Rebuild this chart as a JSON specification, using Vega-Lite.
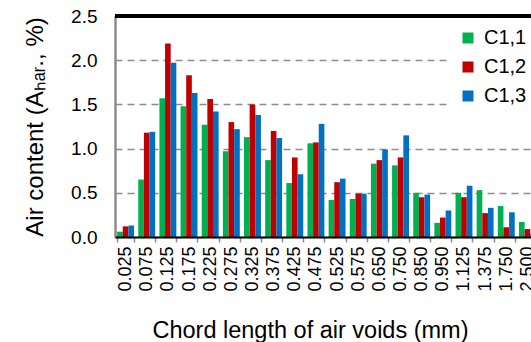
{
  "$schema": "https://vega.github.io/schema/vega-lite/v6.json",
  "autosize": "none",
  "width": 416,
  "height": 221,
  "padding": {"left": 115, "top": 16, "right": 0, "bottom": 105},
  "background": "white",
  "config": {
    "view": {"stroke": null},
    "font": "Liberation Sans"
  },
  "data": {
    "values": [
      {"chord": "0.025", "series": "C1,1", "air": 0.06},
      {"chord": "0.025", "series": "C1,2", "air": 0.12},
      {"chord": "0.025", "series": "C1,3", "air": 0.13},
      {"chord": "0.075", "series": "C1,1", "air": 0.65},
      {"chord": "0.075", "series": "C1,2", "air": 1.18},
      {"chord": "0.075", "series": "C1,3", "air": 1.19},
      {"chord": "0.125", "series": "C1,1", "air": 1.57},
      {"chord": "0.125", "series": "C1,2", "air": 2.19},
      {"chord": "0.125", "series": "C1,3", "air": 1.97},
      {"chord": "0.175", "series": "C1,1", "air": 1.48},
      {"chord": "0.175", "series": "C1,2", "air": 1.83},
      {"chord": "0.175", "series": "C1,3", "air": 1.63},
      {"chord": "0.225", "series": "C1,1", "air": 1.27},
      {"chord": "0.225", "series": "C1,2", "air": 1.56},
      {"chord": "0.225", "series": "C1,3", "air": 1.42},
      {"chord": "0.275", "series": "C1,1", "air": 0.97},
      {"chord": "0.275", "series": "C1,2", "air": 1.30},
      {"chord": "0.275", "series": "C1,3", "air": 1.22},
      {"chord": "0.325", "series": "C1,1", "air": 1.13},
      {"chord": "0.325", "series": "C1,2", "air": 1.50},
      {"chord": "0.325", "series": "C1,3", "air": 1.38},
      {"chord": "0.375", "series": "C1,1", "air": 0.87},
      {"chord": "0.375", "series": "C1,2", "air": 1.20},
      {"chord": "0.375", "series": "C1,3", "air": 1.12},
      {"chord": "0.425", "series": "C1,1", "air": 0.61},
      {"chord": "0.425", "series": "C1,2", "air": 0.90},
      {"chord": "0.425", "series": "C1,3", "air": 0.71},
      {"chord": "0.475", "series": "C1,1", "air": 1.06},
      {"chord": "0.475", "series": "C1,2", "air": 1.07},
      {"chord": "0.475", "series": "C1,3", "air": 1.28},
      {"chord": "0.525", "series": "C1,1", "air": 0.42},
      {"chord": "0.525", "series": "C1,2", "air": 0.62},
      {"chord": "0.525", "series": "C1,3", "air": 0.66},
      {"chord": "0.575", "series": "C1,1", "air": 0.43},
      {"chord": "0.575", "series": "C1,2", "air": 0.49},
      {"chord": "0.575", "series": "C1,3", "air": 0.49},
      {"chord": "0.650", "series": "C1,1", "air": 0.83},
      {"chord": "0.650", "series": "C1,2", "air": 0.87},
      {"chord": "0.650", "series": "C1,3", "air": 0.99},
      {"chord": "0.750", "series": "C1,1", "air": 0.81},
      {"chord": "0.750", "series": "C1,2", "air": 0.90},
      {"chord": "0.750", "series": "C1,3", "air": 1.15},
      {"chord": "0.850", "series": "C1,1", "air": 0.50},
      {"chord": "0.850", "series": "C1,2", "air": 0.45},
      {"chord": "0.850", "series": "C1,3", "air": 0.48},
      {"chord": "0.950", "series": "C1,1", "air": 0.16},
      {"chord": "0.950", "series": "C1,2", "air": 0.22},
      {"chord": "0.950", "series": "C1,3", "air": 0.30},
      {"chord": "1.125", "series": "C1,1", "air": 0.50},
      {"chord": "1.125", "series": "C1,2", "air": 0.45},
      {"chord": "1.125", "series": "C1,3", "air": 0.58},
      {"chord": "1.375", "series": "C1,1", "air": 0.53},
      {"chord": "1.375", "series": "C1,2", "air": 0.27},
      {"chord": "1.375", "series": "C1,3", "air": 0.33},
      {"chord": "1.750", "series": "C1,1", "air": 0.35},
      {"chord": "1.750", "series": "C1,2", "air": 0.11},
      {"chord": "1.750", "series": "C1,3", "air": 0.28},
      {"chord": "2.500", "series": "C1,1", "air": 0.17},
      {"chord": "2.500", "series": "C1,2", "air": 0.09},
      {"chord": "2.500", "series": "C1,3", "air": 0.04}
    ]
  },
  "layer": [
    {
      "mark": {"type": "bar"},
      "encoding": {
        "x": {
          "field": "chord",
          "type": "nominal",
          "sort": null,
          "scale": {"range": [0, 423], "paddingInner": 0.2, "paddingOuter": 0.1},
          "axis": {
            "title": "Chord length of air voids (mm)",
            "titleFont": "Liberation Sans",
            "titleFontSize": 23.5,
            "titleFontWeight": "normal",
            "titleColor": "black",
            "titleX": 195,
            "titleY": 100,
            "titleAlign": "center",
            "titleBaseline": "alphabetic",
            "labelAngle": -90,
            "labelFont": "Liberation Sans",
            "labelFontSize": 18,
            "labelColor": "black",
            "labelPadding": 4,
            "labelOverlap": false,
            "labelBound": false,
            "tickBand": "extent",
            "tickSize": 5,
            "tickColor": "#8c8c8c",
            "tickWidth": 1.5,
            "domainColor": "black",
            "domainWidth": 2,
            "zindex": 1
          }
        },
        "xOffset": {"field": "series", "type": "nominal", "sort": null},
        "y": {
          "field": "air",
          "type": "quantitative",
          "scale": {"domain": [0, 2.5], "nice": false},
          "axis": {
            "title": "Air content (Aₕₐᵣ., %)",
            "titleFont": "Liberation Sans",
            "titleFontSize": 24,
            "titleFontWeight": "normal",
            "titleColor": "black",
            "titleAngle": -90,
            "titleAlign": "center",
            "titleBaseline": "alphabetic",
            "titleX": -73,
            "titleY": 110.5,
            "values": [0, 0.5, 1, 1.5, 2, 2.5],
            "format": ".1f",
            "labelFont": "Liberation Sans",
            "labelFontSize": 19,
            "labelColor": "black",
            "labelPadding": 18,
            "ticks": false,
            "domainColor": "#8c8c8c",
            "domainWidth": 2.5,
            "grid": true,
            "gridColor": "#8c8c8c",
            "gridDash": [7, 5],
            "gridWidth": 1.5
          }
        },
        "color": {
          "field": "series",
          "type": "nominal",
          "sort": null,
          "scale": {"domain": ["C1,1", "C1,2", "C1,3"], "range": ["#00B050", "#C00000", "#0070C0"]},
          "legend": {
            "title": null,
            "orient": "none",
            "legendX": 334,
            "legendY": 3,
            "padding": 9,
            "fillColor": "white",
            "symbolType": "square",
            "symbolSize": 121,
            "symbolStrokeWidth": 0,
            "labelFont": "Liberation Sans",
            "labelFontSize": 20,
            "labelColor": "black",
            "labelOffset": 6,
            "rowPadding": 9
          }
        }
      }
    },
    {
      "mark": {"type": "rule", "color": "black", "strokeWidth": 2.5},
      "encoding": {"y": {"datum": 2.5}}
    }
  ]
}
